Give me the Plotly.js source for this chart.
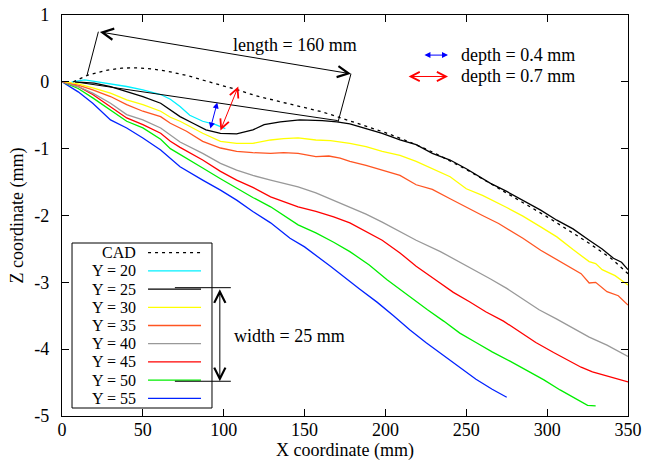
<!DOCTYPE html>
<html>
<head>
<meta charset="utf-8">
<script src="https://cdn.plot.ly/plotly-3.0.1.min.js"></script>
<style>html,body{margin:0;padding:0;background:#fff}#chart{width:659px;height:463px}</style>
</head>
<body>
<div id="chart"></div>
<script>
// ---------- data ----------
const seriesNames = ["CAD", "Y = 20", "Y = 25", "Y = 30", "Y = 35", "Y = 40", "Y = 45", "Y = 50", "Y = 55"];
const seriesColors = ["#000000", "#00f0ff", "#000000", "#ffff00", "#ff5522", "#999999", "#ff0000", "#00ee00", "#0022ff"];

const cadX = [7, 16, 27, 37, 47, 57, 67, 78, 88, 99, 110, 120, 130, 140, 150, 161, 170, 180, 190, 200, 215, 230, 250, 275, 300, 325, 340, 350];
const cadY = [0, 0.1, 0.17, 0.205, 0.21, 0.19, 0.15, 0.09, 0.02, -0.05, -0.13, -0.21, -0.27, -0.33, -0.39, -0.45, -0.52, -0.6, -0.68, -0.76, -0.9, -1.06, -1.31, -1.66, -2.02, -2.4, -2.65, -2.87];

const y20X = [6, 14, 19, 25, 30, 40, 50, 61, 67, 73, 79, 87, 95, 101];
const y20Y = [0, 0.03, 0.01, -0.01, -0.03, -0.07, -0.12, -0.19, -0.26, -0.37, -0.5, -0.59, -0.64, -0.7];

const y25X = [8, 20, 30, 40, 50, 61, 67, 73, 81, 89, 98, 108, 118, 125, 135, 147, 161, 170, 178, 188, 198, 209, 219, 229, 240, 250, 258, 265, 275, 285, 296, 306, 316, 326, 334, 341, 346, 350];
const y25Y = [0, -0.02, -0.07, -0.14, -0.22, -0.32, -0.42, -0.52, -0.62, -0.72, -0.77, -0.78, -0.72, -0.64, -0.6, -0.57, -0.58, -0.6, -0.63, -0.7, -0.77, -0.87, -0.94, -1.07, -1.17, -1.3, -1.42, -1.52, -1.64, -1.77, -1.92, -2.07, -2.2, -2.37, -2.5, -2.64, -2.7, -2.81];

const y30X = [2, 10, 19, 30, 40, 50, 61, 67, 73, 80, 87, 98, 108, 118, 129, 137, 146, 157, 166, 178, 188, 198, 209, 219, 229, 240, 250, 260, 275, 285, 296, 306, 316, 322, 326, 330, 334, 342, 350];
const y30Y = [0, -0.03, -0.09, -0.17, -0.27, -0.34, -0.44, -0.53, -0.59, -0.68, -0.77, -0.89, -0.92, -0.92, -0.87, -0.85, -0.84, -0.87, -0.88, -0.92, -0.97, -1.04, -1.1, -1.19, -1.3, -1.42, -1.6, -1.7, -1.88, -2.01, -2.17, -2.32, -2.51, -2.62, -2.69, -2.72, -2.81, -2.9, -3.04];

const y35X = [1, 10, 19, 30, 40, 50, 61, 67, 77, 87, 98, 108, 118, 129, 137, 146, 157, 165, 172, 178, 188, 198, 209, 219, 229, 240, 250, 260, 270, 275, 285, 296, 306, 316, 321, 326, 330, 337, 344, 350];
const y35Y = [0, -0.05, -0.12, -0.22, -0.34, -0.44, -0.52, -0.62, -0.74, -0.89, -0.99, -1.04, -1.06, -1.07, -1.06, -1.07, -1.12, -1.11, -1.14, -1.19, -1.25, -1.32, -1.4, -1.54, -1.61, -1.75, -1.88, -2.0, -2.12, -2.19, -2.34, -2.52, -2.66, -2.81, -2.87, -3.01, -3.0, -3.14, -3.2, -3.34];

const y40X = [0, 10, 19, 30, 40, 50, 61, 67, 73, 87, 98, 108, 118, 129, 137, 146, 157, 168, 178, 188, 198, 209, 219, 234, 244, 254, 265, 275, 285, 295, 306, 316, 326, 337, 344, 350];
const y40Y = [0, -0.07, -0.17, -0.32, -0.49, -0.57, -0.69, -0.8, -0.9, -1.07, -1.22, -1.32, -1.4, -1.47, -1.52, -1.57, -1.66, -1.77, -1.87, -1.98, -2.1, -2.24, -2.37, -2.54, -2.67, -2.81, -2.95, -3.09, -3.25, -3.41, -3.55, -3.68, -3.82, -3.94, -4.03, -4.11];

const y45X = [0, 10, 19, 30, 40, 50, 61, 67, 73, 87, 98, 108, 118, 129, 137, 146, 157, 168, 178, 188, 198, 209, 219, 232, 242, 252, 262, 273, 283, 293, 304, 314, 321, 328, 339, 350];
const y45Y = [0, -0.07, -0.19, -0.37, -0.54, -0.64, -0.77, -0.89, -0.98, -1.17, -1.34, -1.47, -1.58, -1.72, -1.79, -1.87, -1.94, -2.02, -2.11, -2.24, -2.37, -2.56, -2.76, -2.98, -3.15, -3.29, -3.44, -3.58, -3.74, -3.9, -4.05, -4.18, -4.27, -4.34, -4.41, -4.49];

const y50X = [0, 10, 19, 30, 40, 50, 61, 67, 73, 87, 98, 108, 118, 129, 137, 146, 157, 168, 178, 190, 201, 213, 226, 236, 246, 256, 266, 277, 287, 298, 308, 320, 325, 330];
const y50Y = [0, -0.1, -0.24, -0.42, -0.59, -0.69, -0.86, -1.0, -1.09, -1.29, -1.45, -1.59, -1.73, -1.87, -2.0, -2.14, -2.26, -2.4, -2.54, -2.74, -2.96, -3.18, -3.41, -3.58, -3.76, -3.9, -4.04, -4.18, -4.31, -4.46, -4.61, -4.78, -4.84, -4.85];

const y55X = [0, 10, 19, 30, 40, 50, 61, 67, 73, 87, 98, 108, 118, 129, 141, 150, 166, 184, 195, 205, 215, 225, 235, 246, 256, 266, 275];
const y55Y = [0, -0.15, -0.32, -0.57, -0.69, -0.84, -1.02, -1.15, -1.27, -1.47, -1.62, -1.77, -1.94, -2.11, -2.34, -2.47, -2.76, -3.1, -3.3, -3.5, -3.71, -3.9, -4.08, -4.27, -4.45, -4.6, -4.72];

const xTickVals = [0, 50, 100, 150, 200, 250, 300, 350];
const xTickText = ["0", "50", "100", "150", "200", "250", "300", "350"];
const yTickVals = [1, 0, -1, -2, -3, -4, -5];
const yTickText = ["1", "0", "-1", "-2", "-3", "-4", "-5"];

// ---------- traces ----------
const xs = [cadX, y20X, y25X, y30X, y35X, y40X, y45X, y50X, y55X];
const ys = [cadY, y20Y, y25Y, y30Y, y35Y, y40Y, y45Y, y50Y, y55Y];
const traces = seriesNames.map((n, i) => ({
  x: xs[i], y: ys[i], name: n, type: 'scatter', mode: 'lines', showlegend: false,
  line: {color: seriesColors[i], width: 1.3, dash: i === 0 ? '3px,4px' : 'solid'}
}));
const ordered = traces.slice(1).reverse().concat([traces[0]]);

const FONT = "Liberation Serif";
const FS = 18;
const LEG_FS = 16;

// ---------- custom legend (text left, sample right) ----------
const shapes = [];
const annotations = [];
const plotH = 401;
const toPY = py => (416 - py) / plotH;
shapes.push({type: 'rect', xref: 'paper', yref: 'paper', x0: 0.0177, x1: 0.265, y0: toPY(408), y1: toPY(243),
  line: {color: '#000', width: 1}, fillcolor: 'rgba(255,255,255,1)', layer: 'above'});
seriesNames.forEach((n, i) => {
  const yp = toPY(252.7 + 18.2 * i);
  annotations.push({xref: 'paper', yref: 'paper', x: 0.1325, y: yp, xanchor: 'right', yanchor: 'middle',
    borderpad: 0,
    text: n, showarrow: false, font: {family: FONT, size: LEG_FS, color: '#000'}});
  shapes.push({type: 'line', xref: 'paper', yref: 'paper', x0: 0.152, x1: 0.2456, y0: yp, y1: yp,
    line: {color: seriesColors[i], width: 1.3, dash: i === 0 ? '3px,4px' : 'solid'}, layer: 'above'});
});

// ---------- annotation lines ----------
const L = (x0, y0, x1, y1, c) => ({type: 'line', xref: 'x', yref: 'y', x0, y0, x1, y1, line: {color: c || '#000', width: 1}, layer: 'above'});
shapes.push(L(8, 0, 170.5, -0.58));
shapes.push(L(22.5, 0.75, 15.5, 0.1));
shapes.push(L(178.7, 0.12, 170.7, -0.6));
shapes.push(L(69.8, -3.08, 104.4, -3.08));
shapes.push(L(69.8, -4.48, 104.4, -4.48));

const arrow = (x0, y0, x1, y1, color, head, size) => ({
  xref: 'x', yref: 'y', axref: 'x', ayref: 'y', x: x1, y: y1, ax: x0, ay: y0, text: '',
  showarrow: true, arrowside: 'end+start', arrowhead: head, startarrowhead: head,
  arrowsize: size, startarrowsize: size, arrowwidth: 1, arrowcolor: color, standoff: 0, startstandoff: 0
});
annotations.push(arrow(22.5, 0.75, 178.7, 0.12, '#000', 5, 2.2));
annotations.push(arrow(91.5, -0.72, 96, -0.31, '#0000ff', 2, 1.2));
annotations.push(arrow(97.6, -0.75, 109, -0.07, '#ff0000', 5, 1.8));
annotations.push(arrow(97.6, -3.08, 97.6, -4.48, '#000', 5, 2.2));
annotations.push(arrow(223.2, 0.40, 238.7, 0.40, '#0000ff', 2, 1.2));
annotations.push(arrow(213.4, 0.08, 238.7, 0.08, '#ff0000', 5, 1.8));

const txt = (x, y, t, xa) => ({xref: 'x', yref: 'y', x, y, text: t, showarrow: false, xanchor: xa || 'center', yanchor: 'middle',
  font: {family: FONT, size: FS, color: '#000'}});
annotations.push(txt(144, 0.554, 'length = 160 mm'));
annotations.push(txt(245.5, 0.404, 'depth = 0.4 mm', 'left'));
annotations.push(txt(245.5, 0.094, 'depth = 0.7 mm', 'left'));
annotations.push(txt(105, -3.8, 'width = 25 mm', 'left'));

const axisCommon = {
  showgrid: false, zeroline: false, showline: true, linecolor: '#000', linewidth: 1.2, mirror: 'ticks',
  ticks: 'inside', ticklen: 7, tickwidth: 1.2, tickcolor: '#000', tickmode: 'array',
  tickfont: {family: FONT, size: FS, color: '#000'}
};

const layout = {
  width: 659, height: 463,
  margin: {l: 62, r: 31, t: 15, b: 47, pad: 0},
  paper_bgcolor: '#fff', plot_bgcolor: '#fff',
  showlegend: false,
  font: {family: FONT, size: FS, color: '#000'},
  xaxis: Object.assign({}, axisCommon, {range: [0, 350], tickvals: xTickVals, ticktext: xTickText,
    ticklabelstandoff: -3,
    title: {text: 'X coordinate (mm)', font: {family: FONT, size: FS, color: '#000'}, standoff: 0}}),
  yaxis: Object.assign({}, axisCommon, {range: [-5, 1], tickvals: yTickVals, ticktext: yTickText,
    ticklabelstandoff: 8,
    title: {text: 'Z coordinate (mm)', font: {family: FONT, size: FS, color: '#000'}, standoff: 6}}),
  shapes, annotations
};

Plotly.newPlot('chart', ordered, layout, {staticPlot: true, displayModeBar: false});
</script>
</body>
</html>
